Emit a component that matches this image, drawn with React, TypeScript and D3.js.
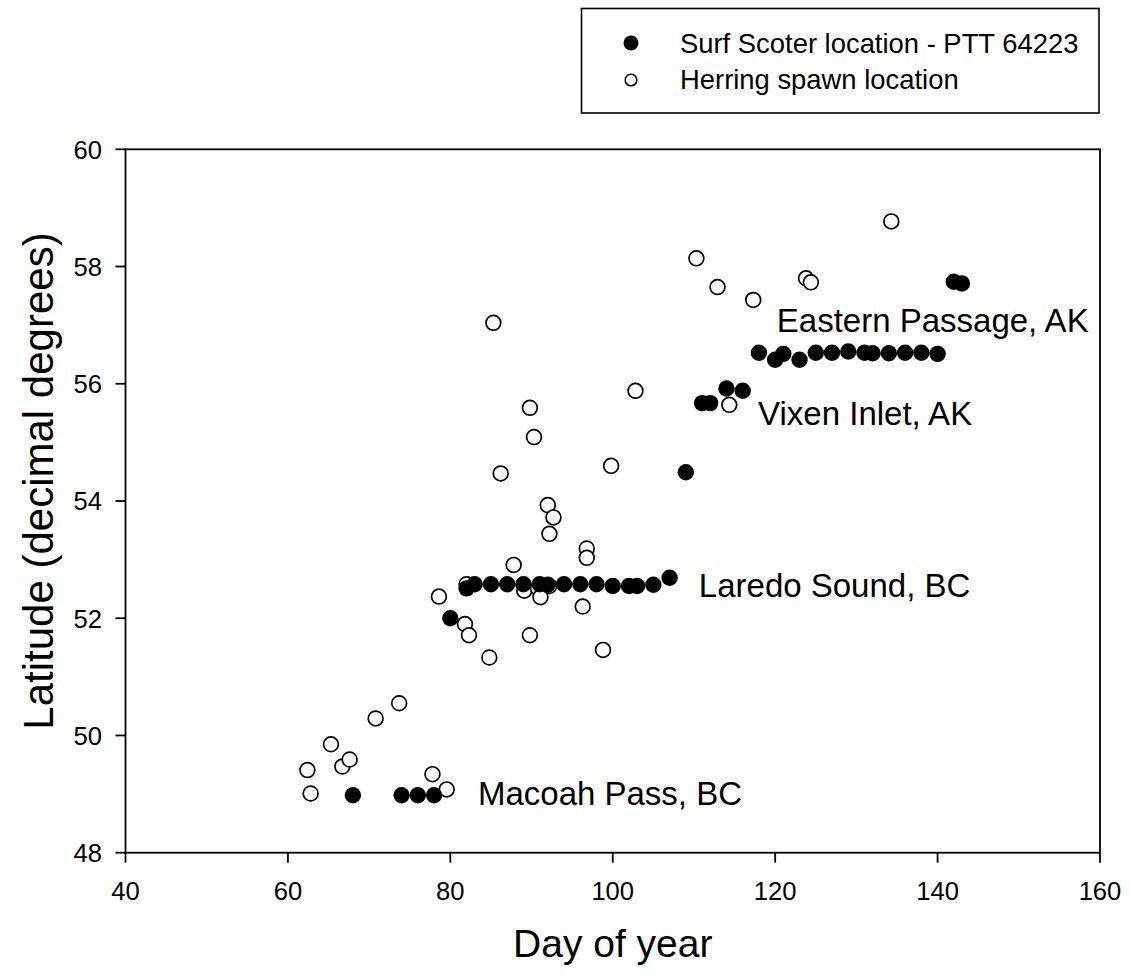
import React from "react";
import * as d3 from "d3";

// Surf Scoter locations (filled)
const scoterDay = [68, 74, 76, 78, 80, 82, 83, 85, 87, 89, 91, 92, 94, 96, 98, 100, 102, 103, 105, 107, 109, 111, 112, 114, 116, 118, 120, 121, 123, 125, 127, 129, 131, 132, 134, 136, 138, 140, 142, 143];
const scoterLat = [48.98, 48.98, 48.98, 48.98, 52.0, 52.51, 52.58, 52.58, 52.58, 52.58, 52.58, 52.57, 52.58, 52.58, 52.58, 52.55, 52.55, 52.55, 52.57, 52.69, 54.49, 55.67, 55.67, 55.92, 55.88, 56.53, 56.41, 56.51, 56.41, 56.53, 56.53, 56.55, 56.53, 56.52, 56.52, 56.53, 56.53, 56.51, 57.74, 57.71];

// Herring spawn locations (open)
const herringDay = [62.8, 62.4, 65.3, 66.7, 67.6, 70.8, 73.7, 77.8, 79.55, 84.8, 78.6, 82.0, 81.8, 82.3, 87.8, 89.1, 90.8, 91.1, 92.2, 89.8, 92.0, 92.7, 92.2, 96.8, 96.8, 96.3, 98.8, 85.3, 89.8, 90.3, 86.2, 102.8, 99.8, 134.3, 110.3, 112.9, 117.3, 123.8, 124.4, 114.35];
const herringLat = [49.01, 49.41, 49.85, 49.47, 49.59, 50.29, 50.55, 49.34, 49.08, 51.33, 52.37, 52.58, 51.9, 51.71, 52.91, 52.47, 52.51, 52.36, 52.55, 51.71, 53.93, 53.72, 53.44, 53.19, 53.03, 52.2, 51.46, 57.04, 55.59, 55.09, 54.47, 55.88, 54.6, 58.77, 58.14, 57.65, 57.43, 57.8, 57.73, 55.64];

const xTicks = [40, 60, 80, 100, 120, 140, 160];
const yTicks = [48, 50, 52, 54, 56, 58, 60];

const siteLabels = ["Eastern Passage, AK", "Vixen Inlet, AK", "Laredo Sound, BC", "Macoah Pass, BC"];
const siteDay = [120.2, 117.9, 110.6, 83.4];
const siteLat = [56.88, 55.3, 52.36, 48.81];

const legendLabels = ["Surf Scoter location - PTT 64223", "Herring spawn location"];

const FONT = "'Liberation Sans', Arial, Helvetica, sans-serif";

export default function App() {
  const left = 125.5, right = 1100, top = 149.3, bottom = 852.7;
  const x = d3.scaleLinear().domain([40, 160]).range([left, right]);
  const y = d3.scaleLinear().domain([48, 60]).range([bottom, top]);

  return (
    <svg width={1130} height={975} style={{ position: "absolute", left: 0, top: 0, background: "#fff" }} fontFamily={FONT}>
      <rect x={0} y={0} width={1130} height={975} fill="#fff" />
      {/* legend */}
      <rect x={581.5} y={8.5} width={517.5} height={104.5} fill="#fff" stroke="#000" strokeWidth={1.6} />
      <circle cx={631} cy={43} r={7.5} fill="#000" />
      <circle cx={631} cy={80} r={5.8} fill="#fff" stroke="#000" strokeWidth={1.6} />
      {legendLabels.map((t, i) => (
        <text key={t} x={680} y={53 + i * 36} fontSize={27.4} fill="#000">{t}</text>
      ))}

      {/* frame */}
      <rect x={left} y={top} width={right - left} height={bottom - top} fill="none" stroke="#000" strokeWidth={1.8} />
      {xTicks.map((t) => (
        <g key={"x" + t}>
          <line x1={x(t)} x2={x(t)} y1={bottom} y2={bottom + 10} stroke="#000" strokeWidth={1.8} />
          <text x={x(t)} y={900} textAnchor="middle" fontSize={25.6} fill="#000">{t}</text>
        </g>
      ))}
      {yTicks.map((t) => (
        <g key={"y" + t}>
          <line x1={left - 10} x2={left} y1={y(t)} y2={y(t)} stroke="#000" strokeWidth={1.8} />
          <text x={102} y={y(t) + 9.3} textAnchor="end" fontSize={25.6} fill="#000">{t}</text>
        </g>
      ))}

      {/* herring (open) */}
      {herringDay.map((d, i) => (
        <circle key={"h" + i} cx={x(d)} cy={y(herringLat[i])} r={7.4} fill="#fff" stroke="#000" strokeWidth={1.7} />
      ))}
      {/* scoter (filled) */}
      {scoterDay.map((d, i) => (
        <circle key={"s" + i} cx={x(d)} cy={y(scoterLat[i])} r={8.2} fill="#000" />
      ))}

      {siteLabels.map((t, i) => (
        <text key={t} x={x(siteDay[i])} y={y(siteLat[i])} fontSize={33} fill="#000">{t}</text>
      ))}

      <text x={(left + right) / 2} y={957} textAnchor="middle" fontSize={39} fill="#000">Day of year</text>
      <text transform={`translate(53,481) rotate(-90)`} textAnchor="middle" fontSize={42} fill="#000">Latitude (decimal degrees)</text>
    </svg>
  );
}
